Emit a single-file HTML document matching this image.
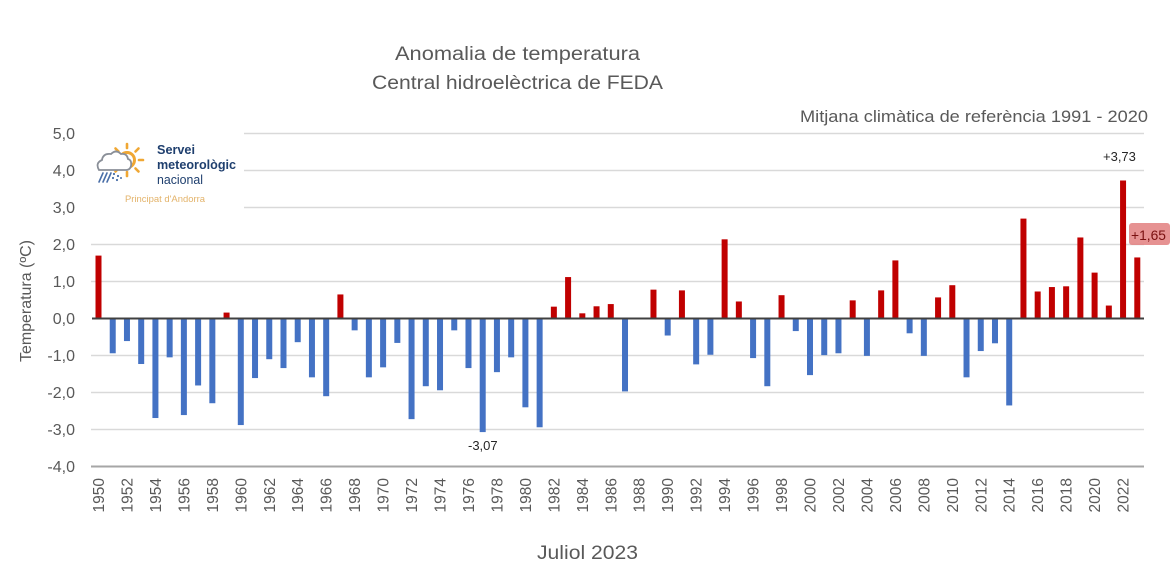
<!DOCTYPE html>
<html><head><meta charset="utf-8"><style>
html,body{margin:0;padding:0;background:#fff;}
svg{display:block;}
text{font-family:"Liberation Sans",Arial,sans-serif;}
</style></head><body>
<svg width="1176" height="570" viewBox="0 0 1176 570" xmlns="http://www.w3.org/2000/svg">
<rect width="1176" height="570" fill="#fff"/>
<!-- titles -->
<text x="395" y="60" font-size="19" fill="#595959" textLength="245" lengthAdjust="spacingAndGlyphs">Anomalia de temperatura</text>
<text x="372" y="89" font-size="19" fill="#595959" textLength="291" lengthAdjust="spacingAndGlyphs">Central hidroelèctrica de FEDA</text>
<text x="800" y="122" font-size="17" fill="#595959" textLength="348" lengthAdjust="spacingAndGlyphs">Mitjana climàtica de referència 1991 - 2020</text>
<text x="537" y="559" font-size="19.5" fill="#595959" textLength="101" lengthAdjust="spacingAndGlyphs">Juliol 2023</text>
<!-- y axis label -->
<text transform="translate(31,301) rotate(-90)" text-anchor="middle" font-size="16" fill="#595959" textLength="122" lengthAdjust="spacingAndGlyphs">Temperatura (ºC)</text>
<!-- gridlines -->
<g stroke="#d9d9d9" stroke-width="1.5">
<line x1="91" y1="133.5" x2="1144" y2="133.5"/>
<line x1="91" y1="170.5" x2="1144" y2="170.5"/>
<line x1="91" y1="207.5" x2="1144" y2="207.5"/>
<line x1="91" y1="244.5" x2="1144" y2="244.5"/>
<line x1="91" y1="281.5" x2="1144" y2="281.5"/>
<line x1="91" y1="355.5" x2="1144" y2="355.5"/>
<line x1="91" y1="392.5" x2="1144" y2="392.5"/>
<line x1="91" y1="429.5" x2="1144" y2="429.5"/>
</g>
<line x1="91" y1="466.5" x2="1144" y2="466.5" stroke="#a6a6a6" stroke-width="2"/>
<!-- y tick labels -->
<g font-size="16" fill="#595959" text-anchor="end">
<text x="75" y="139">5,0</text>
<text x="75" y="176">4,0</text>
<text x="75" y="213">3,0</text>
<text x="75" y="250">2,0</text>
<text x="75" y="287">1,0</text>
<text x="75" y="324">0,0</text>
<text x="75" y="361">-1,0</text>
<text x="75" y="398">-2,0</text>
<text x="75" y="435">-3,0</text>
<text x="75" y="472">-4,0</text>
</g>
<!-- logo -->
<rect x="86" y="127" width="158" height="87" fill="#fff"/>
<g>
<g stroke="#f0a733" stroke-width="2.6" stroke-linecap="round">
<line x1="127" y1="144" x2="127" y2="148"/>
<line x1="127" y1="172" x2="127" y2="176"/>
<line x1="139" y1="160" x2="143" y2="160"/>
<line x1="135.5" y1="151.5" x2="138.5" y2="148.5"/>
<line x1="135.5" y1="168.5" x2="138.5" y2="171.5"/>
<line x1="118.5" y1="151.5" x2="115.5" y2="148.5"/>
<line x1="118.5" y1="168.5" x2="115.5" y2="171.5"/>
</g>
<circle cx="127" cy="160" r="7.5" fill="#fff" stroke="#f0a733" stroke-width="3"/>
<path d="M99 170 q-4 -7 3 -10 q1 -7 9 -6 q5 -5 10 0 q6 -1 7 5 q4 1 3 7 q-1 4 -5 4 z" fill="#fff" stroke="#8a8f98" stroke-width="1.8"/>
<g stroke="#4a6fa8" stroke-width="1.6" stroke-linecap="round">
<line x1="99" y1="182" x2="103" y2="173"/>
<line x1="103" y1="182" x2="107" y2="173"/>
<line x1="107" y1="182" x2="111" y2="173"/>
</g>
<g fill="#4a6fa8"><circle cx="114" cy="174" r="1.1"/><circle cx="118" cy="176" r="1.1"/><circle cx="113" cy="178" r="1.1"/><circle cx="117" cy="180" r="1.1"/><circle cx="121" cy="178" r="1"/></g>
<text x="157" y="154" font-size="13" font-weight="bold" fill="#1f3f6e" textLength="38" lengthAdjust="spacingAndGlyphs">Servei</text>
<text x="157" y="169" font-size="13" font-weight="bold" fill="#1f3f6e" textLength="79" lengthAdjust="spacingAndGlyphs">meteorològic</text>
<text x="157" y="184" font-size="13" fill="#1f3f6e" textLength="46" lengthAdjust="spacingAndGlyphs">nacional</text>
<text x="125" y="202" font-size="9.5" fill="#e3b36a" textLength="80" lengthAdjust="spacingAndGlyphs">Principat d'Andorra</text>
</g>
<!-- bars -->
<g transform="matrix(1 0 0 -37 0 318.5)">
<g fill="#c00000">
<rect x="95.5" y="0" width="6" height="1.70"/>
<rect x="223.57" y="0" width="6" height="0.16"/>
<rect x="337.41" y="0" width="6" height="0.65"/>
<rect x="550.86" y="0" width="6" height="0.32"/>
<rect x="565.09" y="0" width="6" height="1.12"/>
<rect x="579.32" y="0" width="6" height="0.14"/>
<rect x="593.55" y="0" width="6" height="0.33"/>
<rect x="607.78" y="0" width="6" height="0.39"/>
<rect x="650.47" y="0" width="6" height="0.78"/>
<rect x="678.93" y="0" width="6" height="0.76"/>
<rect x="721.62" y="0" width="6" height="2.14"/>
<rect x="735.85" y="0" width="6" height="0.46"/>
<rect x="778.54" y="0" width="6" height="0.63"/>
<rect x="849.69" y="0" width="6" height="0.49"/>
<rect x="878.15" y="0" width="6" height="0.76"/>
<rect x="892.38" y="0" width="6" height="1.57"/>
<rect x="935.07" y="0" width="6" height="0.57"/>
<rect x="949.3" y="0" width="6" height="0.90"/>
<rect x="1020.45" y="0" width="6" height="2.70"/>
<rect x="1034.68" y="0" width="6" height="0.73"/>
<rect x="1048.91" y="0" width="6" height="0.85"/>
<rect x="1063.14" y="0" width="6" height="0.87"/>
<rect x="1077.37" y="0" width="6" height="2.19"/>
<rect x="1091.6" y="0" width="6" height="1.24"/>
<rect x="1105.83" y="0" width="6" height="0.35"/>
<rect x="1120.06" y="0" width="6" height="3.73"/>
<rect x="1134.29" y="0" width="6" height="1.65"/>
</g>
<g fill="#4472c4">
<rect x="109.73" y="-0.94" width="6" height="0.94"/>
<rect x="123.96" y="-0.61" width="6" height="0.61"/>
<rect x="138.19" y="-1.23" width="6" height="1.23"/>
<rect x="152.42" y="-2.69" width="6" height="2.69"/>
<rect x="166.65" y="-1.05" width="6" height="1.05"/>
<rect x="180.88" y="-2.61" width="6" height="2.61"/>
<rect x="195.11" y="-1.81" width="6" height="1.81"/>
<rect x="209.34" y="-2.29" width="6" height="2.29"/>
<rect x="237.8" y="-2.88" width="6" height="2.88"/>
<rect x="252.03" y="-1.61" width="6" height="1.61"/>
<rect x="266.26" y="-1.10" width="6" height="1.10"/>
<rect x="280.49" y="-1.34" width="6" height="1.34"/>
<rect x="294.72" y="-0.64" width="6" height="0.64"/>
<rect x="308.95" y="-1.59" width="6" height="1.59"/>
<rect x="323.18" y="-2.10" width="6" height="2.10"/>
<rect x="351.64" y="-0.32" width="6" height="0.32"/>
<rect x="365.87" y="-1.59" width="6" height="1.59"/>
<rect x="380.1" y="-1.32" width="6" height="1.32"/>
<rect x="394.33" y="-0.66" width="6" height="0.66"/>
<rect x="408.56" y="-2.72" width="6" height="2.72"/>
<rect x="422.79" y="-1.83" width="6" height="1.83"/>
<rect x="437.02" y="-1.94" width="6" height="1.94"/>
<rect x="451.25" y="-0.32" width="6" height="0.32"/>
<rect x="465.48" y="-1.34" width="6" height="1.34"/>
<rect x="479.71" y="-3.07" width="6" height="3.07"/>
<rect x="493.94" y="-1.45" width="6" height="1.45"/>
<rect x="508.17" y="-1.05" width="6" height="1.05"/>
<rect x="522.4" y="-2.40" width="6" height="2.40"/>
<rect x="536.63" y="-2.94" width="6" height="2.94"/>
<rect x="622.01" y="-1.97" width="6" height="1.97"/>
<rect x="664.7" y="-0.46" width="6" height="0.46"/>
<rect x="693.16" y="-1.24" width="6" height="1.24"/>
<rect x="707.39" y="-0.98" width="6" height="0.98"/>
<rect x="750.08" y="-1.07" width="6" height="1.07"/>
<rect x="764.31" y="-1.83" width="6" height="1.83"/>
<rect x="792.77" y="-0.34" width="6" height="0.34"/>
<rect x="807" y="-1.53" width="6" height="1.53"/>
<rect x="821.23" y="-0.99" width="6" height="0.99"/>
<rect x="835.46" y="-0.94" width="6" height="0.94"/>
<rect x="863.92" y="-1.01" width="6" height="1.01"/>
<rect x="906.61" y="-0.40" width="6" height="0.40"/>
<rect x="920.84" y="-1.01" width="6" height="1.01"/>
<rect x="963.53" y="-1.59" width="6" height="1.59"/>
<rect x="977.76" y="-0.88" width="6" height="0.88"/>
<rect x="991.99" y="-0.67" width="6" height="0.67"/>
<rect x="1006.22" y="-2.35" width="6" height="2.35"/>
</g>
</g>
<!-- zero axis -->
<line x1="92" y1="318.5" x2="1144" y2="318.5" stroke="#404040" stroke-width="2"/>
<!-- data labels -->
<text x="468" y="450" font-size="13" fill="#262626">-3,07</text>
<text x="1103" y="161" font-size="13" fill="#262626">+3,73</text>
<rect x="1129" y="223" width="41" height="22" rx="3" fill="#e27f7f" fill-opacity="0.85"/>
<text x="1131" y="240" font-size="14" fill="#7a1010" textLength="35" lengthAdjust="spacingAndGlyphs">+1,65</text>
<!-- x labels -->
<g font-size="15.5" fill="#595959" text-anchor="end">
<text transform="translate(104,478) rotate(-90)">1950</text>
<text transform="translate(132.46,478) rotate(-90)">1952</text>
<text transform="translate(160.92,478) rotate(-90)">1954</text>
<text transform="translate(189.38,478) rotate(-90)">1956</text>
<text transform="translate(217.84,478) rotate(-90)">1958</text>
<text transform="translate(246.3,478) rotate(-90)">1960</text>
<text transform="translate(274.76,478) rotate(-90)">1962</text>
<text transform="translate(303.22,478) rotate(-90)">1964</text>
<text transform="translate(331.68,478) rotate(-90)">1966</text>
<text transform="translate(360.14,478) rotate(-90)">1968</text>
<text transform="translate(388.6,478) rotate(-90)">1970</text>
<text transform="translate(417.06,478) rotate(-90)">1972</text>
<text transform="translate(445.52,478) rotate(-90)">1974</text>
<text transform="translate(473.98,478) rotate(-90)">1976</text>
<text transform="translate(502.44,478) rotate(-90)">1978</text>
<text transform="translate(530.9,478) rotate(-90)">1980</text>
<text transform="translate(559.36,478) rotate(-90)">1982</text>
<text transform="translate(587.82,478) rotate(-90)">1984</text>
<text transform="translate(616.28,478) rotate(-90)">1986</text>
<text transform="translate(644.74,478) rotate(-90)">1988</text>
<text transform="translate(673.2,478) rotate(-90)">1990</text>
<text transform="translate(701.66,478) rotate(-90)">1992</text>
<text transform="translate(730.12,478) rotate(-90)">1994</text>
<text transform="translate(758.58,478) rotate(-90)">1996</text>
<text transform="translate(787.04,478) rotate(-90)">1998</text>
<text transform="translate(815.5,478) rotate(-90)">2000</text>
<text transform="translate(843.96,478) rotate(-90)">2002</text>
<text transform="translate(872.42,478) rotate(-90)">2004</text>
<text transform="translate(900.88,478) rotate(-90)">2006</text>
<text transform="translate(929.34,478) rotate(-90)">2008</text>
<text transform="translate(957.8,478) rotate(-90)">2010</text>
<text transform="translate(986.26,478) rotate(-90)">2012</text>
<text transform="translate(1014.72,478) rotate(-90)">2014</text>
<text transform="translate(1043.18,478) rotate(-90)">2016</text>
<text transform="translate(1071.64,478) rotate(-90)">2018</text>
<text transform="translate(1100.1,478) rotate(-90)">2020</text>
<text transform="translate(1128.56,478) rotate(-90)">2022</text>
</g>
</svg>
</body></html>
